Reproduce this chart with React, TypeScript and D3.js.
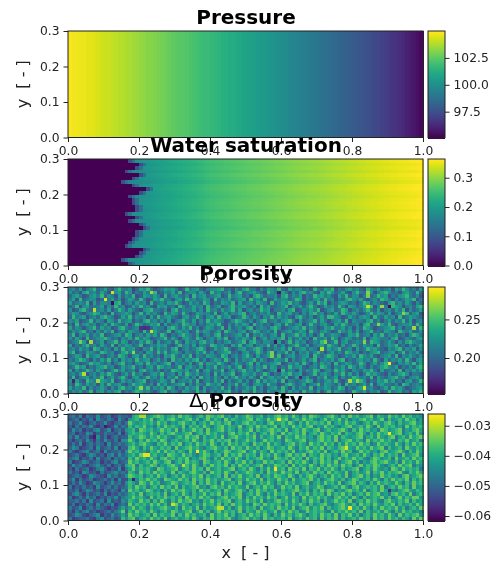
import * as d3 from "d3";
import { useEffect, useRef } from "react";

// x profile of pressure, one value per grid column
const pressureByColumn = [
  104.9, 104.8, 104.8, 104.7, 104.7, 104.6, 104.6, 104.5, 104.4, 104.3,
  104.2, 104.2, 104.1, 104.0, 103.9, 103.9, 103.8, 103.7, 103.6, 103.5,
  103.4, 103.3, 103.2, 103.2, 103.1, 103.0, 102.9, 102.8, 102.7, 102.6,
  102.5, 102.4, 102.4, 102.3, 102.2, 102.1, 102.0, 101.9, 101.8, 101.8,
  101.7, 101.6, 101.5, 101.4, 101.3, 101.2, 101.2, 101.1, 101.0, 100.9,
  100.8, 100.7, 100.6, 100.5, 100.4, 100.4, 100.3, 100.2, 100.1, 100.0,
  99.9, 99.8, 99.7, 99.6, 99.5, 99.4, 99.3, 99.2, 99.1, 99.0,
  98.9, 98.8, 98.7, 98.6, 98.5, 98.4, 98.3, 98.2, 98.1, 98.0,
  97.9, 97.8, 97.7, 97.6, 97.5, 97.4, 97.3, 97.2, 97.0, 96.9,
  96.8, 96.6, 96.5, 96.4, 96.2, 96.0, 95.9, 95.7, 95.5, 95.3,
];

// water front position per row, top row first
const waterFront = [
  0.17, 0.2, 0.19, 0.16, 0.2, 0.18, 0.15, 0.18, 0.22, 0.2,
  0.17, 0.18, 0.18, 0.19, 0.19, 0.16, 0.19, 0.17, 0.2, 0.21,
  0.19, 0.19, 0.18, 0.17, 0.16, 0.21, 0.2, 0.19, 0.15, 0.175,
];
const waterRowShift = [
  0.004, -0.002, 0.003, -0.004, 0.005, -0.001, -0.006, 0.004, 0.006, 0.001,
  -0.003, 0.002, 0.005, 0.003, -0.002, 0.004, 0.006, -0.004, -0.002, -0.007,
  0.002, 0.004, -0.001, 0.003, 0.005, -0.005, 0.001, 0.003, 0.006, 0.004,
];
const waterByColumn = [
  0, 0, 0, 0, 0, 0, 0, 0, 0, 0,
  0, 0, 0, 0, 0, 0.165, 0.17, 0.175, 0.178, 0.182,
  0.185, 0.188, 0.191, 0.194, 0.198, 0.202, 0.205, 0.208, 0.211, 0.214,
  0.217, 0.22, 0.223, 0.226, 0.229, 0.232, 0.235, 0.238, 0.242, 0.246,
  0.25, 0.252, 0.254, 0.256, 0.258, 0.26, 0.262, 0.264, 0.266, 0.268,
  0.27, 0.272, 0.274, 0.275, 0.277, 0.279, 0.281, 0.283, 0.285, 0.287,
  0.289, 0.291, 0.293, 0.295, 0.297, 0.299, 0.3, 0.302, 0.304, 0.305,
  0.307, 0.309, 0.311, 0.313, 0.315, 0.317, 0.319, 0.321, 0.323, 0.325,
  0.327, 0.329, 0.331, 0.333, 0.335, 0.337, 0.338, 0.34, 0.342, 0.344,
  0.346, 0.348, 0.349, 0.351, 0.352, 0.353, 0.355, 0.356, 0.358, 0.36,
];
const frontRamp = [0.085, 0.135];

// porosity speckle: hand estimated level per cell, top row first.
// only the cells in porosityPeaks are really located, the rest gives the texture
const porosityLevels = [0.172, 0.182, 0.19, 0.2, 0.211, 0.222, 0.233, 0.245, 0.255, 0.265];
const porosityGrid = [
  "4536245734632574451365742346564237456324556734253674425365473264553427436572435645327546345264753426",
  "5342674536424563752436457235463724553642745346257345643275436425367453264753463257436524675342564373",
  "3564235647354263547236546427356435274563456237456342675344526735462437564532647355246347562435674352",
  "4627345523746352465374236574425637453465273546345627453723645534762435637452436754632453764253465724",
  "6345472635543672453645273453657423645375243654726345365427346574532463757243565342476354326745364253",
  "3472563446253745236474532656342753464527346235745643527463345725463574236453742653464725343765245367",
  "5236743545362475364325674435267354463527453645736245347562445367235464723563476245357436245364725346",
  "4653245763427345652473645327465374236545372463546724535463274563425367452436375464235746536245473562",
  "3745624536754236473545263745643256347425637456234753642547364532674352463775423643565274364527346543",
  "5462347354265374562436745353624574362537465423576435246734535674263457364245637254436735246354736245",
  "4273564524637543624753465726345376452435647325364652745342563743562474356326475345267345647324556374",
  "6354245736452367434576235442675364735246534726345367245436752345647354236574463525376423456735244637",
  "3546734253647245365427356434725645237465346275435624763453724563465274356423754636245734365427546335",
  "4725463547234563762453646375243575436245367243456372546435627345746352473465423657345264735463425764",
  "5364273456753425463746523457364256437524536472354653724635457263463527446375246534372565443672354356",
  "3457625346245736524364752634537426453674524356345726743554362473645235476347256345423765346425367544",
  "6243574536437254653472354656324745362543764532647356245473635245743624563754263475364527346573425346",
  "4536452763542637456325473645367245346752364574235634675243546372456354273645734526347564325467354625",
  "5724365437645236745342653747356425436473524567342563475364254736254635742463537645243567345624735463",
  "3465274563245376425637453426574364725436543762453574263465372456345627435764235463754632456372546435",
  "4357642536473526453745624635274536467352465374263545736423654725346357245463672435645374263546374256",
  "5642347564352467342563745346725453624736547532464357263445672354637425364527346534752463574325464736",
  "3475624356745236457342563764534725643625473546357246354736524374563245376425463753642534675462435367",
  "6253475364235746345267453524376546347256354724635745364235647354263547624537463254365742634537254646",
  "4536724536475324637452356473452637546345273645723654634752436574562347356425473635247564325346752443",
  "3724563547246357425634745362547346352745364263574536427356454723654632547346253476453726435674524563",
  "5463275436547236453567243465372454637245364725346352473645637254345762435647324563752436574634256347",
  "4275364526374563247564352746345672536437546235473642565374423675346245736543627453463725644352763454",
  "6354725346425367453624735463752436457263454736253464735245637426354372546534762435674532463756423456",
  "3546347256354672435764532467354265437462535467342653745264357364527453624736542375463546237456342657",
];
// [column, row, value]: cells that stand out clearly in the picture
const porosityPeaks = [
  [12, 1, 0.282], [10, 3, 0.285], [12, 4, 0.158], [7, 6, 0.278], [23, 1, 0.272], [23, 12, 0.28],
  [6, 15, 0.272], [21, 11, 0.172], [20, 11, 0.176], [22, 11, 0.176], [4, 24, 0.276], [18, 18, 0.268],
  [8, 26, 0.27], [20, 28, 0.268], [3, 15, 0.262], [1, 26, 0.168], [90, 21, 0.292], [90, 5, 0.16],
  [59, 1, 0.165], [58, 15, 0.16], [84, 1, 0.266], [84, 2, 0.262], [88, 5, 0.27], [84, 5, 0.278],
  [72, 15, 0.264], [83, 15, 0.266], [71, 17, 0.276], [57, 18, 0.262], [57, 19, 0.262], [83, 28, 0.282],
  [79, 26, 0.274], [81, 26, 0.268], [94, 7, 0.266], [97, 11, 0.272], [87, 10, 0.266], [65, 25, 0.168],
  [59, 23, 0.17],
];

// delta porosity: same kind of estimate, dark left of the front and light right of it
const deltaLevels = [-0.058, -0.0555, -0.053, -0.0505, -0.047, -0.0435, -0.0405, -0.0375, -0.0345, -0.032];
const deltaGrid = [
  "3425143252341243326786567875675867646758767856475687567465786758647587656786475867567847658675867565",
  "2341324153243153156757684675786567857468576485765678476586757846758675468576857465786756847567586746",
  "4235213423521342486567675867465786574675867578465786756478567586475867675846758675467586578647567856",
  "3142435213412524375768564758676584767586467857658467586756847658675784658675467856758648576756485767",
  "2534132452351342567487675686758475686748567857647568475678675846758657846756786475867564875678465786",
  "3413254132433251467676586475786567846758675647857685746758648576758467586576847657864758675678467585",
  "4252341352413423375687576867546758678475675846786576847567584765867564786758476567846758657846758678",
  "3134253142532415586475867587467567586476857678475686745867564875678465786758467857648576867547685674",
  "2425134243152343467578654768576846758675864758675764867585764678576486758674758675867458676586475867",
  "3541234152342513378647586576748567867546786574867586574687567586476857684765784658675867847567486576",
  "4213452341523342586756476858675764857686475687567846857648576758465786758467586745867564785678647586",
  "2342135423145253467584767564876586754687567485768576748675864785768476586756478567586476857674856785",
  "3451324152341434375867586478675768465786475867586475678564876758674857685746857686754687567485675867",
  "4123542341324523486756758657846758676487567586476857465867567485768647586758467857465786786574867586",
  "2534213453241342678475687465786567586475867684758675678465876748576586475867586746857687546758678465",
  "3142341245313251468576754875678467586748567567846758647585767486758476857686475678467586564875867674",
  "4231542314234534376486758676584765786574867586475687657486758675846758674857658467568476857678547686",
  "2343125432153423587674675867467586576847567484768567584675876586475786467586758467857465867564785678",
  "3514234123424152268576867548765867486758675678467586758476586748567685746786574687567586475867684757",
  "2425312543135342576487586745687567684758674856758467857686475867567846758675846785764758676586475867",
  "4132423152342423475867467586758475678564786758676584675867458675846756874567586478567675846758674856",
  "3241354231424315386756875647586786574867567486578647586756847567865747586874657867584675867546786576",
  "2453142342513243467584676758467586475685768475678467586475867658476857674857685746758678564786758467",
  "4124253413243524568675485768675748675867546785768475867586746857648576867547867586475676857468576885",
  "3342415234152325476586747586475867856476857678467586758465786758647586747568675846758675478657684756",
  "2413243152435134385767586857468576467586758475867564875867674857686475678546786574867586576847567586",
  "4235134243213246468576475678657486758475676857468576748567586758467857684756786467586475867685746758",
  "3142452312342458375867586467587567846857468576758476586756847586745867675485768675847567586475867564",
  "2354213451325346486756748576684758675674857685746758675864758675786467586758476857467586758648576785",
  "4123342145234237578467586758467567586476857678546785764867567584675867485768475675867486758675764858",
];
const deltaPeaks = [
  [21, 11, -0.0275], [22, 11, -0.0275], [36, 10, -0.027], [29, 25, -0.029], [32, 14, -0.03], [42, 26, -0.03],
  [43, 26, -0.03], [20, 0, -0.031], [21, 0, -0.031], [10, 3, -0.059], [7, 6, -0.059], [18, 18, -0.059],
  [59, 1, -0.027], [90, 5, -0.027], [58, 15, -0.027], [78, 9, -0.028], [79, 26, -0.027], [90, 21, -0.056],
];

const xTicks = [0, 0.2, 0.4, 0.6, 0.8, 1];
const yTicks = [0, 0.1, 0.2, 0.3];
const pressureTicks = [97.5, 100, 102.5];
const waterTicks = [0, 0.1, 0.2, 0.3];
const porosityTicks = [0.2, 0.25];
const deltaTicks = [-0.06, -0.05, -0.04, -0.03];

const columns = d3.range(100);
const rows = d3.range(30);

const gridValue = (grid: string[], levels: number[], peaks: number[][]) => (c: number, r: number) => {
  const peak = peaks.find(p => p[0] === c && p[1] === r);
  if (peak) return peak[2];
  return levels[+(grid[r][c] ?? "4")];
};

const waterValue = (c: number, r: number) => {
  const x = (c + 0.5) / 100;
  if (x < waterFront[r]) return 0;
  const step = c - Math.ceil(waterFront[r] * 100 - 0.5);
  if (step < frontRamp.length) return frontRamp[step];
  return waterByColumn[c] + waterRowShift[r];
};

const panels = [
  { title: "Pressure", top: 31, domain: [95.1, 105.0], ticks: pressureTicks, fmt: ".1f", value: (c: number) => pressureByColumn[c], titleY: 24 },
  { title: "Water saturation", top: 159, domain: [0, 0.364], ticks: waterTicks, fmt: ".1f", value: waterValue, titleY: 152 },
  { title: "Porosity", top: 287, domain: [0.154, 0.292], ticks: porosityTicks, fmt: ".2f", value: gridValue(porosityGrid, porosityLevels, porosityPeaks), titleY: 280 },
  { title: "Δ Porosity", top: 414, domain: [-0.0615, -0.0261], ticks: deltaTicks, fmt: ".2f", value: gridValue(deltaGrid, deltaLevels, deltaPeaks), titleY: 407 },
];

const left = 68;
const plotW = 355;
const plotH = 106.5;
const barX = 428;
const barW = 17;
const font = "'DejaVu Sans', sans-serif";

export default function App() {
  const ref = useRef<SVGSVGElement>(null);

  useEffect(() => {
    const svg = d3.select(ref.current);
    svg.selectAll("*").remove();

    const xScale = d3.scaleLinear().domain([0, 1]).range([0, plotW]);
    const yScale = d3.scaleLinear().domain([0, 0.3]).range([plotH, 0]);
    const colBand = d3.scaleBand<number>().domain(columns).range([0, plotW]);
    const rowBand = d3.scaleBand<number>().domain(rows).range([0, plotH]);

    panels.forEach(p => {
      const color = d3.scaleSequential(d3.interpolateViridis).domain(p.domain as [number, number]);
      const g = svg.append("g").attr("transform", `translate(${left},${p.top})`);

      const cells = rows.flatMap(r => columns.map(c => ({ c, r })));
      g.append("g")
        .attr("shape-rendering", "crispEdges")
        .selectAll("rect")
        .data(cells)
        .enter()
        .append("rect")
        .attr("x", d => colBand(d.c)!)
        .attr("y", d => rowBand(d.r)!)
        .attr("width", colBand.bandwidth() + 0.5)
        .attr("height", rowBand.bandwidth() + 0.5)
        .attr("fill", d => color(p.value(d.c, d.r)));

      const xAxis = g.append("g")
        .attr("transform", `translate(0,${plotH})`)
        .call(d3.axisBottom(xScale).tickValues(xTicks).tickFormat(d3.format(".1f") as any).tickSize(4.5).tickPadding(4));
      const yAxis = g.append("g")
        .call(d3.axisLeft(yScale).tickValues(yTicks).tickFormat(d3.format(".1f") as any).tickSize(4.5).tickPadding(4));
      [xAxis, yAxis].forEach(a => {
        a.selectAll("text").attr("font-size", 12.3).attr("font-family", font).attr("fill", "#222");
        a.selectAll("line").attr("stroke", "#222");
        a.select(".domain").remove();
      });

      g.append("rect")
        .attr("width", plotW)
        .attr("height", plotH)
        .attr("fill", "none")
        .attr("stroke", "#222");

      // colorbar
      const barScale = d3.scaleLinear().domain(p.domain).range([plotH, 0]);
      const bar = svg.append("g").attr("transform", `translate(${barX},${p.top})`);
      const steps = d3.range(107).map(i => p.domain[1] - ((p.domain[1] - p.domain[0]) * i) / 106);
      bar.append("g")
        .attr("shape-rendering", "crispEdges")
        .selectAll("rect")
        .data(steps)
        .enter()
        .append("rect")
        .attr("width", barW)
        .attr("y", d => barScale(d))
        .attr("height", 1.5)
        .attr("fill", d => color(d));
      const barAxis = bar.append("g")
        .attr("transform", `translate(${barW},0)`)
        .call(d3.axisRight(barScale).tickValues(p.ticks).tickFormat(d3.format(p.fmt) as any).tickSize(4.5).tickPadding(4));
      barAxis.selectAll("text").attr("font-size", 12.3).attr("font-family", font).attr("fill", "#222");
      barAxis.selectAll("line").attr("stroke", "#222");
      barAxis.select(".domain").remove();
      bar.append("rect")
        .attr("width", barW)
        .attr("height", plotH)
        .attr("fill", "none")
        .attr("stroke", "#222");

      g.append("text")
        .attr("transform", `translate(-40,${plotH / 2}) rotate(-90)`)
        .attr("text-anchor", "middle")
        .attr("font-size", 16)
        .attr("font-family", font)
        .attr("fill", "#222")
        .style("white-space", "pre")
        .text("y  [ - ]");
    });

    // titles go last, they sit on top of the tick labels of the panel above
    panels.forEach(p => {
      const title = svg.append("text")
        .attr("x", left + plotW / 2 + 0.5)
        .attr("y", p.titleY)
        .attr("text-anchor", "middle")
        .attr("font-size", 20)
        .attr("font-weight", "bold")
        .attr("font-family", font)
        .attr("fill", "#000");
      if (p.title.startsWith("Δ")) {
        // the delta comes out in regular weight in the reference
        title.append("tspan").attr("font-weight", "normal").text("Δ ");
        title.append("tspan").text(p.title.slice(2));
      } else {
        title.text(p.title);
      }
    });

    svg.append("text")
      .attr("x", left + plotW / 2)
      .attr("y", 558)
      .attr("text-anchor", "middle")
      .attr("font-size", 16)
      .attr("font-family", font)
      .attr("fill", "#222")
      .style("white-space", "pre")
      .text("x  [ - ]");
  }, []);

  return (
    <svg
      ref={ref}
      width={494}
      height={569}
      style={{ position: "absolute", left: 0, top: 0, filter: "blur(0.6px)" }}
    />
  );
}
